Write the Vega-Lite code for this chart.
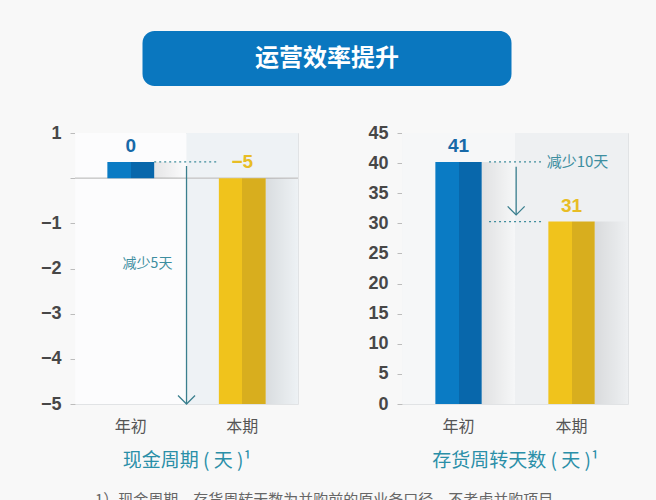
{
  "$schema": "https://vega.github.io/schema/vega-lite/v6.json",
  "background": "#f8f8f8",
  "padding": {"left": 40, "top": 31, "right": 31, "bottom": 0},
  "datasets": {
    "cash": [
      {"cat": "年初", "value": 0.36, "label": "0"},
      {"cat": "本期", "value": -5, "label": "−5"}
    ],
    "days": [
      {"cat": "年初", "value": 40.2, "label": "41"},
      {"cat": "本期", "value": 30.3, "label": "31"}
    ]
  },
  "config": {
    "view": {"stroke": "#e1e3e5"},
    "font": "Noto Sans CJK SC",
    "axisY": {
      "grid": false, "title": null, "labelOverlap": false,
      "domainColor": "#d8d8d8", "tickColor": "#bcbcbc", "tickSize": 5,
      "labelPadding": 9, "labelFont": "Liberation Sans", "labelFontSize": 18,
      "labelFontWeight": "bold", "labelColor": "#474747"
    },
    "axisX": {
      "domain": false, "ticks": false, "labelAngle": 0,
      "labelFontSize": 16, "labelColor": "#555555", "labelPadding": 14,
      "titleFontSize": 19, "titleFontWeight": "normal", "titleColor": "#2a8fa8", "titlePadding": 17
    }
  },
  "title": {
    "text": "1）现金周期、存货周转天数为并购前的原业务口径，不考虑并购项目",
    "orient": "bottom", "anchor": "start", "dx": 55, "offset": 22,
    "fontSize": 15, "fontWeight": "normal", "color": "#666666"
  },
  "spacing": 37,
  "center": true,
  "vconcat": [
    {
      "width": 369, "height": 55,
      "view": {"fill": "#0a77bf", "stroke": null, "cornerRadius": 12},
      "data": {"values": [{"t": "运营效率提升", "p": 0.5}]},
      "mark": {"type": "text", "fontSize": 24, "fontWeight": "bold", "color": "white", "baseline": "middle"},
      "encoding": {
        "x": {"field": "p", "type": "quantitative", "scale": {"domain": [0, 1]}, "axis": null},
        "y": {"field": "p", "type": "quantitative", "scale": {"domain": [0, 1]},
              "axis": {"orient": "right", "domain": false, "ticks": false, "labels": false,
                       "title": "运营", "titleColor": "transparent", "titleFontSize": 10, "titlePadding": 40}},
        "text": {"field": "t"}
      }
    },
    {
      "spacing": 67,
      "hconcat": [
        {
          "width": 223, "height": 271,
          "resolve": {"scale": {"x": "independent"}},
          "layer": [
            {
              "data": {"name": "cash"},
              "encoding": {
                "x": {"field": "cat", "type": "nominal", "sort": ["年初", "本期"],
                      "scale": {"paddingInner": 0, "paddingOuter": 0},
                      "axis": {"title": "现金周期 ( 天 )¹"}},
                "y": {"field": "value", "type": "quantitative",
                      "scale": {"domain": [-5, 1], "nice": false, "zero": false},
                      "axis": {"values": [1, 0, -1, -2, -3, -4, -5], "labelExpr": "datum.value == 0 ? '' : datum.label"}}
              },
              "layer": [
                {
                  "mark": {"type": "bar", "width": {"band": 1}},
                  "encoding": {
                    "y": {"datum": 1},
                    "y2": {"datum": -5},
                    "color": {"condition": {"test": "datum.cat === '年初'", "value": "#fcfcfd"}, "value": "#eef2f5"}
                  }
                },
                {
                  "mark": {"type": "rule", "color": "#c9c9c9", "strokeWidth": 1},
                  "encoding": {"y": {"datum": 0}, "x": null}
                },
                {
                  "mark": {"type": "bar", "width": {"band": 0.3}, "xOffset": 40,
                           "fill": {"gradient": "linear", "x1": 0, "x2": 1, "y1": 0, "y2": 0,
                                    "stops": [{"offset": 0, "color": "rgba(0,0,0,0.09)"}, {"offset": 1, "color": "rgba(0,0,0,0)"}]}},
                  "encoding": {"y2": {"datum": 0}}
                },
                {
                  "mark": {"type": "bar", "width": {"band": 0.42}},
                  "encoding": {
                    "y2": {"datum": 0},
                    "color": {
                      "condition": {"test": "datum.cat === '年初'", "value": {"gradient": "linear", "x1": 0, "x2": 1, "y1": 0, "y2": 0,
                        "stops": [{"offset": 0, "color": "#0a7bc4"}, {"offset": 0.5, "color": "#0a7bc4"}, {"offset": 0.5, "color": "#0867ab"}, {"offset": 1, "color": "#0867ab"}]}},
                      "value": {"gradient": "linear", "x1": 0, "x2": 1, "y1": 0, "y2": 0,
                        "stops": [{"offset": 0, "color": "#f0c31c"}, {"offset": 0.5, "color": "#f0c31c"}, {"offset": 0.5, "color": "#d8ae1e"}, {"offset": 1, "color": "#d8ae1e"}]}
                    }
                  }
                },
                {
                  "transform": [{"filter": "datum.value >= 0"}],
                  "mark": {"type": "text", "font": "Liberation Sans", "fontSize": 19, "fontWeight": "bold", "baseline": "bottom", "dy": -6},
                  "encoding": {
                    "text": {"field": "label"},
                    "color": {"condition": {"test": "datum.cat === '年初'", "value": "#1769a8"}, "value": "#e8bd25"}
                  }
                },
                {
                  "transform": [{"filter": "datum.value < 0"}],
                  "mark": {"type": "text", "font": "Liberation Sans", "fontSize": 19, "fontWeight": "bold", "baseline": "bottom", "dy": -6},
                  "encoding": {
                    "y": {"datum": 0},
                    "text": {"field": "label"},
                    "color": {"condition": {"test": "datum.cat === '年初'", "value": "#1769a8"}, "value": "#e8bd25"}
                  }
                }
              ]
            },
            {
              "data": {"values": [{"kind": "dot", "x": 0.71, "x2": 1.27, "y": 0.36}, {"kind": "arrow", "x": 1.0, "y": 0.27, "y2": -5}, {"kind": "note", "x": 0.65, "y": -1.9, "t": "减少5天"}]},
              "encoding": {
                "x": {"field": "x", "type": "quantitative", "scale": {"domain": [0, 2], "nice": false, "zero": false}, "axis": null},
                "y": {"field": "y", "type": "quantitative", "scale": {"domain": [-5, 1], "nice": false, "zero": false},
                      "axis": {"values": [1, 0, -1, -2, -3, -4, -5], "labelExpr": "datum.value == 0 ? '' : datum.label"}}
              },
              "layer": [
                {
                  "transform": [{"filter": "datum.kind === 'dot'"}],
                  "mark": {"type": "rule", "color": "#3f8c9c", "strokeDash": [2, 3], "strokeWidth": 1.3},
                  "encoding": {"x2": {"field": "x2"}}
                },
                {
                  "transform": [{"filter": "datum.kind === 'arrow'"}],
                  "mark": {"type": "rule", "color": "#3a7f8e", "strokeWidth": 1.3},
                  "encoding": {"y2": {"field": "y2"}}
                },
                {
                  "transform": [{"filter": "datum.kind === 'arrow'"}],
                  "mark": {"type": "point", "shape": "M -1 -1 L 0 0 L 1 -1", "filled": false, "size": 289, "color": "#3a7f8e", "strokeWidth": 1.3, "opacity": 1},
                  "encoding": {"y": {"field": "y2", "type": "quantitative", "scale": {"domain": [-5, 1], "nice": false, "zero": false},
                                     "axis": {"values": [1, 0, -1, -2, -3, -4, -5], "labelExpr": "datum.value == 0 ? '' : datum.label"}}}
                },
                {
                  "transform": [{"filter": "datum.kind === 'note'"}],
                  "mark": {"type": "text", "fontSize": 14, "color": "#3d8ea0", "baseline": "middle"},
                  "encoding": {"text": {"field": "t"}}
                }
              ]
            }
          ]
        },
        {
          "width": 226, "height": 271,
          "resolve": {"scale": {"x": "independent"}},
          "layer": [
            {
              "data": {"name": "days"},
              "encoding": {
                "x": {"field": "cat", "type": "nominal", "sort": ["年初", "本期"],
                      "scale": {"paddingInner": 0, "paddingOuter": 0},
                      "axis": {"title": "存货周转天数 ( 天 )¹"}},
                "y": {"field": "value", "type": "quantitative",
                      "scale": {"domain": [0, 45], "nice": false},
                      "axis": {"values": [0, 5, 10, 15, 20, 25, 30, 35, 40, 45]}}
              },
              "layer": [
                {
                  "mark": {"type": "bar", "width": {"band": 1}},
                  "encoding": {
                    "y": {"datum": 45},
                    "y2": {"datum": 0},
                    "color": {"condition": {"test": "datum.cat === '年初'", "value": "#f6f7f8"}, "value": "#eef0f2"}
                  }
                },
                {
                  "mark": {"type": "bar", "width": {"band": 0.3}, "xOffset": 40,
                           "fill": {"gradient": "linear", "x1": 0, "x2": 1, "y1": 0, "y2": 0,
                                    "stops": [{"offset": 0, "color": "rgba(0,0,0,0.09)"}, {"offset": 1, "color": "rgba(0,0,0,0)"}]}},
                  "encoding": {"y2": {"datum": 0}}
                },
                {
                  "mark": {"type": "bar", "width": {"band": 0.41}},
                  "encoding": {
                    "y2": {"datum": 0},
                    "color": {
                      "condition": {"test": "datum.cat === '年初'", "value": {"gradient": "linear", "x1": 0, "x2": 1, "y1": 0, "y2": 0,
                        "stops": [{"offset": 0, "color": "#0a7bc4"}, {"offset": 0.5, "color": "#0a7bc4"}, {"offset": 0.5, "color": "#0867ab"}, {"offset": 1, "color": "#0867ab"}]}},
                      "value": {"gradient": "linear", "x1": 0, "x2": 1, "y1": 0, "y2": 0,
                        "stops": [{"offset": 0, "color": "#f0c31c"}, {"offset": 0.5, "color": "#f0c31c"}, {"offset": 0.5, "color": "#d8ae1e"}, {"offset": 1, "color": "#d8ae1e"}]}
                    }
                  }
                },
                {
                  "mark": {"type": "text", "font": "Liberation Sans", "fontSize": 19, "fontWeight": "bold", "baseline": "bottom", "dy": -6},
                  "encoding": {
                    "text": {"field": "label"},
                    "color": {"condition": {"test": "datum.cat === '年初'", "value": "#1769a8"}, "value": "#e8bd25"}
                  }
                }
              ]
            },
            {
              "data": {"values": [
                {"kind": "dot", "x": 0.77, "x2": 1.25, "y": 40.2},
                {"kind": "dot", "x": 0.77, "x2": 1.25, "y": 30.3},
                {"kind": "arrow", "x": 1.01, "y": 39.4, "y2": 31.4},
                {"kind": "note", "x": 1.28, "y": 40.2, "t": "减少10天"}
              ]},
              "encoding": {
                "x": {"field": "x", "type": "quantitative", "scale": {"domain": [0, 2], "nice": false, "zero": false}, "axis": null},
                "y": {"field": "y", "type": "quantitative", "scale": {"domain": [0, 45], "nice": false},
                      "axis": {"values": [0, 5, 10, 15, 20, 25, 30, 35, 40, 45]}}
              },
              "layer": [
                {
                  "transform": [{"filter": "datum.kind === 'dot'"}],
                  "mark": {"type": "rule", "color": "#3f8c9c", "strokeDash": [2, 3], "strokeWidth": 1.3},
                  "encoding": {"x2": {"field": "x2"}}
                },
                {
                  "transform": [{"filter": "datum.kind === 'arrow'"}],
                  "mark": {"type": "rule", "color": "#3a7f8e", "strokeWidth": 1.3},
                  "encoding": {"y2": {"field": "y2"}}
                },
                {
                  "transform": [{"filter": "datum.kind === 'arrow'"}],
                  "mark": {"type": "point", "shape": "M -1 -1 L 0 0 L 1 -1", "filled": false, "size": 289, "color": "#3a7f8e", "strokeWidth": 1.3, "opacity": 1},
                  "encoding": {"y": {"field": "y2", "type": "quantitative", "scale": {"domain": [0, 45], "nice": false},
                                     "axis": {"values": [0, 5, 10, 15, 20, 25, 30, 35, 40, 45]}}}
                },
                {
                  "transform": [{"filter": "datum.kind === 'note'"}],
                  "mark": {"type": "text", "fontSize": 15, "color": "#3d8ea0", "baseline": "middle", "align": "left"},
                  "encoding": {"text": {"field": "t"}}
                }
              ]
            }
          ]
        }
      ]
    }
  ]
}
